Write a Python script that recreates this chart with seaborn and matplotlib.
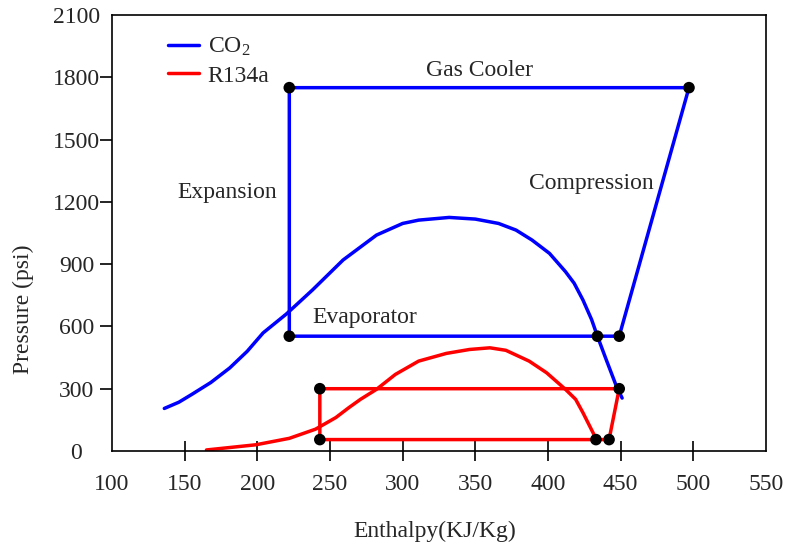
import matplotlib
matplotlib.use("Agg")
import matplotlib.pyplot as plt
import pandas as pd
import seaborn as sns
from matplotlib.lines import Line2D

# CO2 saturation dome: enthalpy (kJ/kg) and pressure (psi)
co2_dome_h = [136, 146, 155, 168, 181, 193, 204, 220, 238, 259, 282, 300, 311, 332, 350, 366,
              378, 389, 401, 412, 418, 424, 430, 434, 440, 447, 451]
co2_dome_p = [205, 235, 273, 330, 400, 480, 569, 660, 776, 920, 1040, 1096, 1112, 1125, 1117, 1096,
              1064, 1016, 952, 864, 808, 728, 633, 553, 441, 313, 255]

# CO2 transcritical cycle: compression -> gas cooler -> expansion -> evaporator
co2_cycle_h = [449, 497, 222, 222, 449]
co2_cycle_p = [553, 1750, 1750, 553, 553]
co2_state_h = [222, 222, 497, 434, 449]
co2_state_p = [553, 1750, 1750, 553, 553]

# R134a saturation dome
r134a_dome_h = [165, 199, 222, 240, 254, 263, 271, 282, 295, 311, 330, 346, 360,
                371, 387, 399, 412, 419, 424, 433]
r134a_dome_p = [5, 30, 61, 105, 161, 209, 249, 297, 369, 433, 470, 489, 497,
                485, 433, 377, 297, 249, 185, 60]

# R134a subcritical cycle
r134a_cycle_h = [243, 449, 442, 243, 243]
r134a_cycle_p = [300, 300, 55, 55, 300]
r134a_state_h = [243, 243, 433, 442, 449]
r134a_state_p = [300, 55, 55, 55, 300]

# Process labels
process_names = ["Gas Cooler", "Expansion", "Compression", "Evaporator"]
process_h = [353, 179, 430, 274]
process_p = [1835, 1246, 1289, 642]

x_ticks = [100, 150, 200, 250, 300, 350, 400, 450, 500, 550]
y_ticks = [0, 300, 600, 900, 1200, 1500, 1800, 2100]

BLUE = "#0000ff"
RED = "#ff0000"
LW = 2.5
FS = 17

sns.set_style("white")
plt.rcParams["font.family"] = ["Liberation Serif", "DejaVu Serif"]
plt.rcParams["mathtext.fontset"] = "custom"
plt.rcParams["mathtext.rm"] = "Liberation Serif"
plt.rcParams["mathtext.it"] = "Liberation Serif:italic"

fig = plt.figure(figsize=(7.86, 5.5), dpi=100)
ax = fig.add_axes([112 / 786, 99 / 550, 654 / 786, 436 / 550])


def path(h, p):
    return pd.DataFrame({"h": h, "p": p})


sns.lineplot(data=path(co2_dome_h, co2_dome_p), x="h", y="p", sort=False,
             estimator=None, color=BLUE, lw=LW, ax=ax)
sns.lineplot(data=path(co2_cycle_h, co2_cycle_p), x="h", y="p", sort=False,
             estimator=None, color=BLUE, lw=LW, ax=ax)
sns.lineplot(data=path(r134a_dome_h, r134a_dome_p), x="h", y="p", sort=False,
             estimator=None, color=RED, lw=LW, ax=ax)
sns.lineplot(data=path(r134a_cycle_h, r134a_cycle_p), x="h", y="p", sort=False,
             estimator=None, color=RED, lw=LW, ax=ax)

states = pd.DataFrame({"h": co2_state_h + r134a_state_h,
                       "p": co2_state_p + r134a_state_p})
sns.scatterplot(data=states, x="h", y="p", color="black", s=70,
                edgecolor="none", zorder=5, ax=ax)

for name, h, p in zip(process_names, process_h, process_p):
    ax.text(h, p, name, fontsize=FS, ha="center", va="center")

ax.set_xlim(100, 550)
ax.set_ylim(0, 2100)
ax.set_xticks(x_ticks)
ax.set_yticks(y_ticks)
ax.set_xticklabels([str(t) for t in x_ticks])
ax.set_yticklabels([str(t) for t in y_ticks])

for s in ax.spines.values():
    s.set_visible(True)
    s.set_color("black")
    s.set_linewidth(1.2)

ax.tick_params(axis="x", bottom=True, direction="inout", length=14.4,
               width=1.2, color="black", labelsize=FS, pad=9)
ax.tick_params(axis="y", left=True, direction="out", length=8.6,
               width=1.2, color="black", labelsize=FS, pad=17)
for lbl in ax.get_yticklabels():
    lbl.set_horizontalalignment("center")
for tick in (ax.xaxis.get_major_ticks()[0], ax.xaxis.get_major_ticks()[-1],
             ax.yaxis.get_major_ticks()[0], ax.yaxis.get_major_ticks()[-1]):
    tick.tick1line.set_visible(False)

ax.set_xlabel("Enthalpy(KJ/Kg)", fontsize=FS)
ax.set_ylabel("Pressure (psi)", fontsize=FS)
ax.xaxis.set_label_coords(0.494, -0.16)
ax.yaxis.set_label_coords(-0.119, 0.326)

handles = [Line2D([], [], color=BLUE, lw=LW), Line2D([], [], color=RED, lw=LW)]
ax.legend(handles, ["CO$_2$", "R134a"], loc="upper left",
          bbox_to_anchor=(0.0856, 0.952), frameon=False, fontsize=FS,
          handlelength=1.31, handletextpad=0.37, labelspacing=0.29,
          borderpad=0, borderaxespad=0)

fig.savefig("out.png", dpi=100)
